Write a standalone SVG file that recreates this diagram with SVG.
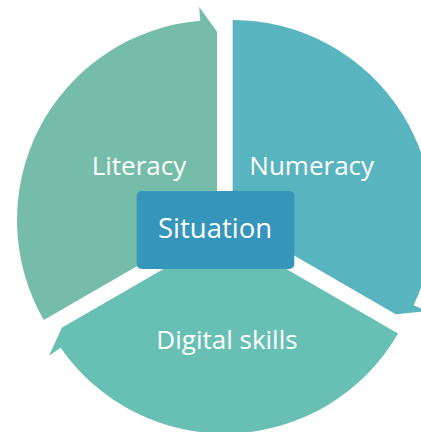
<svg xmlns="http://www.w3.org/2000/svg" width="421" height="432" viewBox="0 0 421 432">
  <style>
    .lbl { font-family: "Open Sans", "Liberation Sans", sans-serif; font-size: 26px; fill: #ffffff; text-anchor: middle; }
    .ctr { font-size: 27.5px; }
  </style>
  <rect width="421" height="432" fill="#ffffff"/>
  <g id="connectors"></g>
  <g id="literacy">
    <path d="M217,220 L43.8,320 A200,200 0 0 1 200.26,20.7 L199.09,6.75 L217,31.7 Z" fill="#76BDA9"/>
    <text class="lbl" x="139" y="174.5">Literacy</text>
  </g>
  <g id="numeracy">
    <path d="M232.7,220 L232.7,20 A200,200 0 0 1 413.66,305.16 L426.33,311.12 L395.77,314.15 Z" fill="#58B4BF"/>
    <text class="lbl" x="311.7" y="174.5">Numeracy</text>
  </g>
  <g id="digital-skills">
    <path d="M224.85,233.6 L398.05,333.6 A200,200 0 0 1 60.63,347.74 L49.13,355.73 L61.78,327.75 Z" fill="#68BFB4"/>
    <text class="lbl" x="227" y="348.5">Digital skills</text>
  </g>
  <g id="situation">
    <rect x="136.7" y="191" width="157.6" height="78" rx="5" fill="#3695BA"/>
    <text class="lbl ctr" x="215" y="238.3">Situation</text>
  </g>
</svg>
